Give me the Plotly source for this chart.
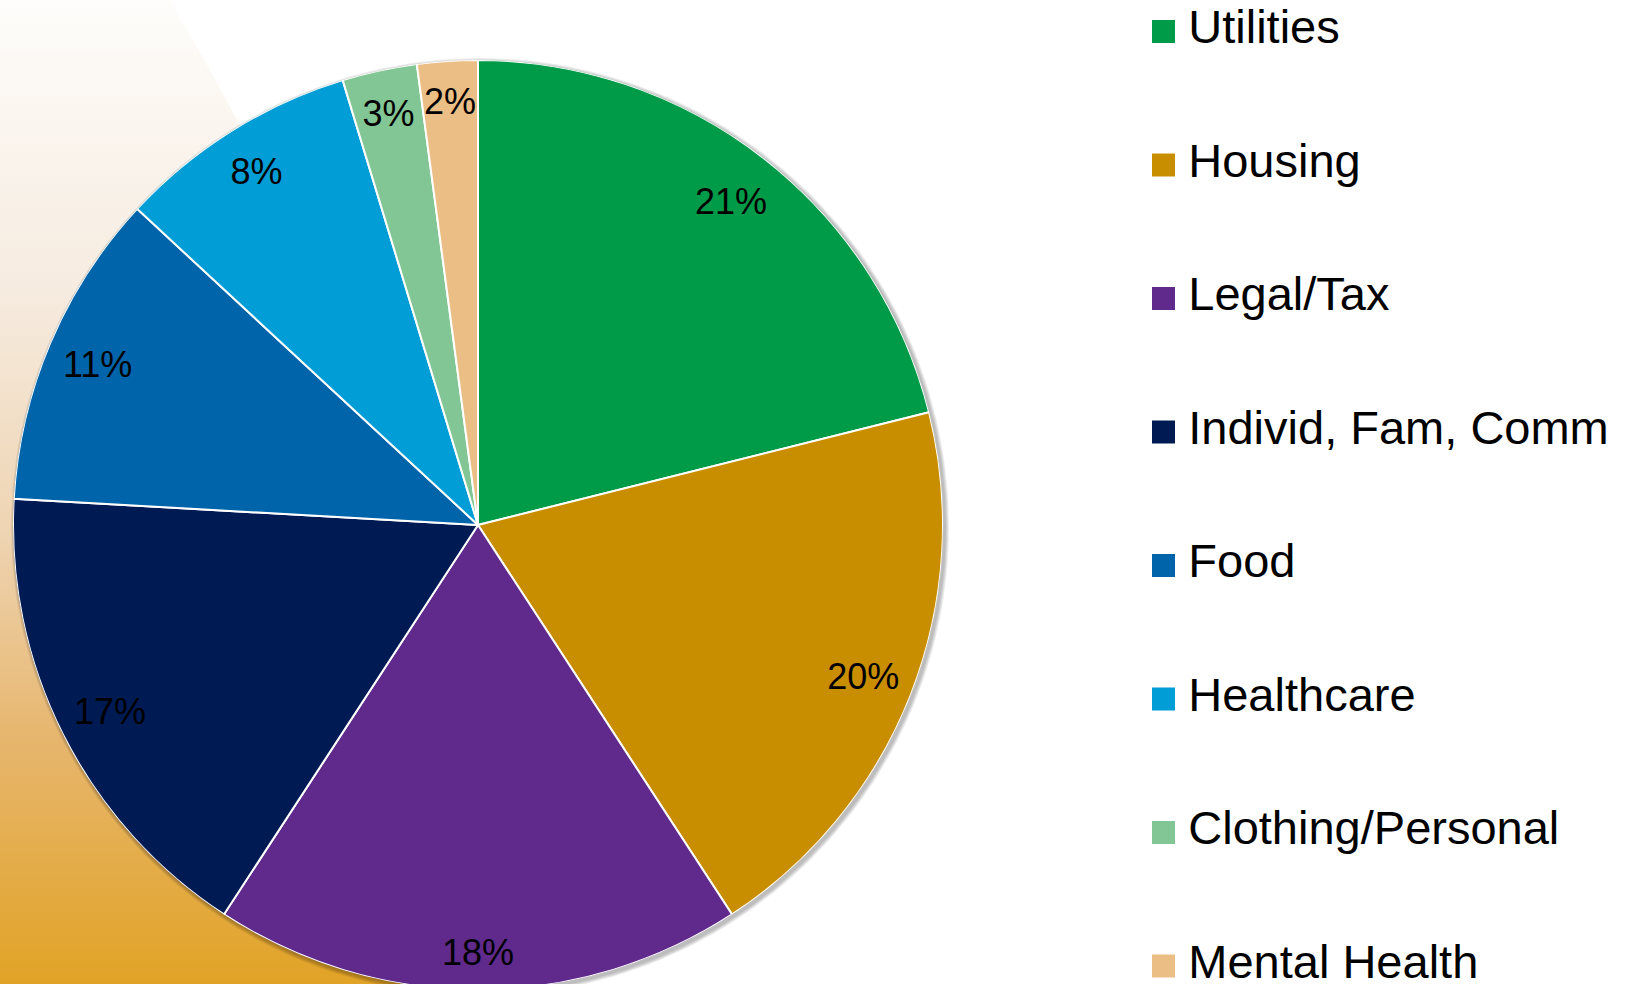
import numpy as np
import plotly.graph_objects as go

# ---------------- data ----------------
categories = ["Utilities", "Housing", "Legal/Tax", "Individ, Fam, Comm",
              "Food", "Healthcare", "Clothing/Personal", "Mental Health"]
shares = [21.1, 19.7, 18.4, 16.7, 11.0, 8.4, 2.6, 2.1]
colors = ["#009B48", "#C98E00", "#5F2A8C", "#001B54",
          "#0064AA", "#009DD6", "#83C695", "#EABE84"]

W, H = 1631, 990          # figure slightly taller than the 984 window: pie runs off the bottom
FONT = "Liberation Sans, Arial, Helvetica, sans-serif"

# ---------------- pie geometry (polar subplot) ----------------
PIE_CX, PIE_CY, PIE_R = 478, 525, 465          # pixels (layout)
dom_x = [(PIE_CX - PIE_R) / W, (PIE_CX + PIE_R) / W]
dom_y = [max(0.0, 1 - (PIE_CY + PIE_R) / H), 1 - (PIE_CY - PIE_R) / H]

total = sum(shares)
widths = [v / total * 360 for v in shares]
cum = np.cumsum([0] + widths[:-1])
mids = [c + w / 2 for c, w in zip(cum, widths)]
labels = [f"{round(v / total * 100)}%" for v in shares]

# "inside end" label placement: label box (with internal margins) is
# pushed along the slice's mid direction until its far corner meets the circle
LBL_SIZE = 36
BOX_MX, BOX_HH = 4, 37
def char_w(ch):
    return 0.889 if ch == "%" else 0.556
label_r, label_t = [], []
for m, t in zip(mids, labels):
    th = np.radians(m)
    ux, uy = abs(np.sin(th)), abs(np.cos(th))
    hw = sum(char_w(c) for c in t) * LBL_SIZE / 2 + BOX_MX
    b = ux * hw + uy * BOX_HH
    c = hw ** 2 + BOX_HH ** 2 - PIE_R ** 2
    rho = -b + np.sqrt(b * b - c)
    px = rho * np.sin(th)
    py = -rho * np.cos(th) + 0.12 * LBL_SIZE     # text anchor below cap centre
    label_r.append(np.hypot(px, py) / PIE_R)
    label_t.append(np.degrees(np.arctan2(px, -py)) % 360)

fig = go.Figure()

# ---------------- background gradient shape ----------------
ccx, ccy, cR = -1975, 1285, 2500
ys = np.linspace(0, H, 120)
arc_x = ccx + np.sqrt(cR ** 2 - (ys - ccy) ** 2)
bg_x = [0] + list(arc_x) + [0, 0]
bg_y = [0] + list(ys) + [H, 0]
fig.add_trace(go.Scatter(
    x=bg_x, y=bg_y, mode="lines", fill="toself",
    line=dict(width=0, color="rgba(0,0,0,0)"),
    fillgradient=dict(type="vertical", start=0, stop=984,
                      colorscale=[[0, "#FEFDFB"], [0.3, "#F6EBDF"],
                                  [0.55, "#EED3B0"], [0.75, "#E7B66E"],
                                  [1, "#E1A326"]]),
    hoverinfo="skip", showlegend=False, xaxis="x", yaxis="y"))

# soft drop shadow under the pie
ang = np.linspace(0, 2 * np.pi, 241)
for k in (4, 3, 2, 1):
    fig.add_trace(go.Scatter(
        x=PIE_CX + 2 + (PIE_R + k) * np.sin(ang),
        y=PIE_CY + 2 + (PIE_R + k) * np.cos(ang),
        mode="lines", fill="toself", line=dict(width=0, color="rgba(0,0,0,0)"),
        fillcolor="rgba(0,0,0,0.07)", hoverinfo="skip", showlegend=False,
        xaxis="x", yaxis="y"))

# ---------------- pie slices ----------------
fig.add_trace(go.Barpolar(
    r=[1] * len(shares), theta=mids, width=widths,
    marker=dict(color=colors, line=dict(color="white", width=2)),
    text=categories, hoverinfo="text", showlegend=False, subplot="polar"))

fig.add_trace(go.Scatterpolar(
    r=label_r, theta=label_t, mode="text", text=labels,
    textfont=dict(size=LBL_SIZE, color="black", family=FONT),
    textposition="middle center", hoverinfo="skip",
    showlegend=False, subplot="polar"))

# ---------------- legend (drawn as a category scatter) ----------------
fig.add_trace(go.Scatter(
    x=[0] * len(categories), y=categories, mode="markers+text",
    marker=dict(symbol="square", size=23, color=colors, line=dict(width=0)),
    text=["\u2009" + c for c in categories], textposition="middle right",
    textfont=dict(size=47, color="black", family=FONT),
    cliponaxis=False, hoverinfo="skip", showlegend=False,
    xaxis="x2", yaxis="y2"))

# legend rows: first at 31.5 px from top, 133.5 px apart
row0, row_gap = 31.5, 133.5
span = H / row_gap
y2_top = -row0 / row_gap
y2_range = [y2_top + span, y2_top]

fig.update_layout(
    width=W, height=H,
    margin=dict(l=0, r=0, t=0, b=0),
    paper_bgcolor="white", plot_bgcolor="rgba(0,0,0,0)",
    font=dict(family=FONT),
    showlegend=False,
    xaxis=dict(domain=[0, 1], range=[0, W], visible=False, fixedrange=True),
    yaxis=dict(domain=[0, 1], range=[H, 0], visible=False, fixedrange=True),
    xaxis2=dict(domain=[1163.5 / W, 1], range=[0, 1], visible=False,
                anchor="y2", fixedrange=True),
    yaxis2=dict(domain=[0, 1], type="category", categoryorder="array",
                categoryarray=categories, range=y2_range,
                visible=False, anchor="x2", fixedrange=True),
    polar=dict(domain=dict(x=dom_x, y=dom_y), bgcolor="rgba(0,0,0,0)",
               hole=0,
               angularaxis=dict(rotation=90, direction="clockwise",
                                visible=False),
               radialaxis=dict(range=[0, 1], visible=False)),
)

fig.write_html(
    "out.html",
    config={"displayModeBar": False},
    post_script="document.body.style.margin='0';"
                "document.body.style.overflow='hidden';",
)
